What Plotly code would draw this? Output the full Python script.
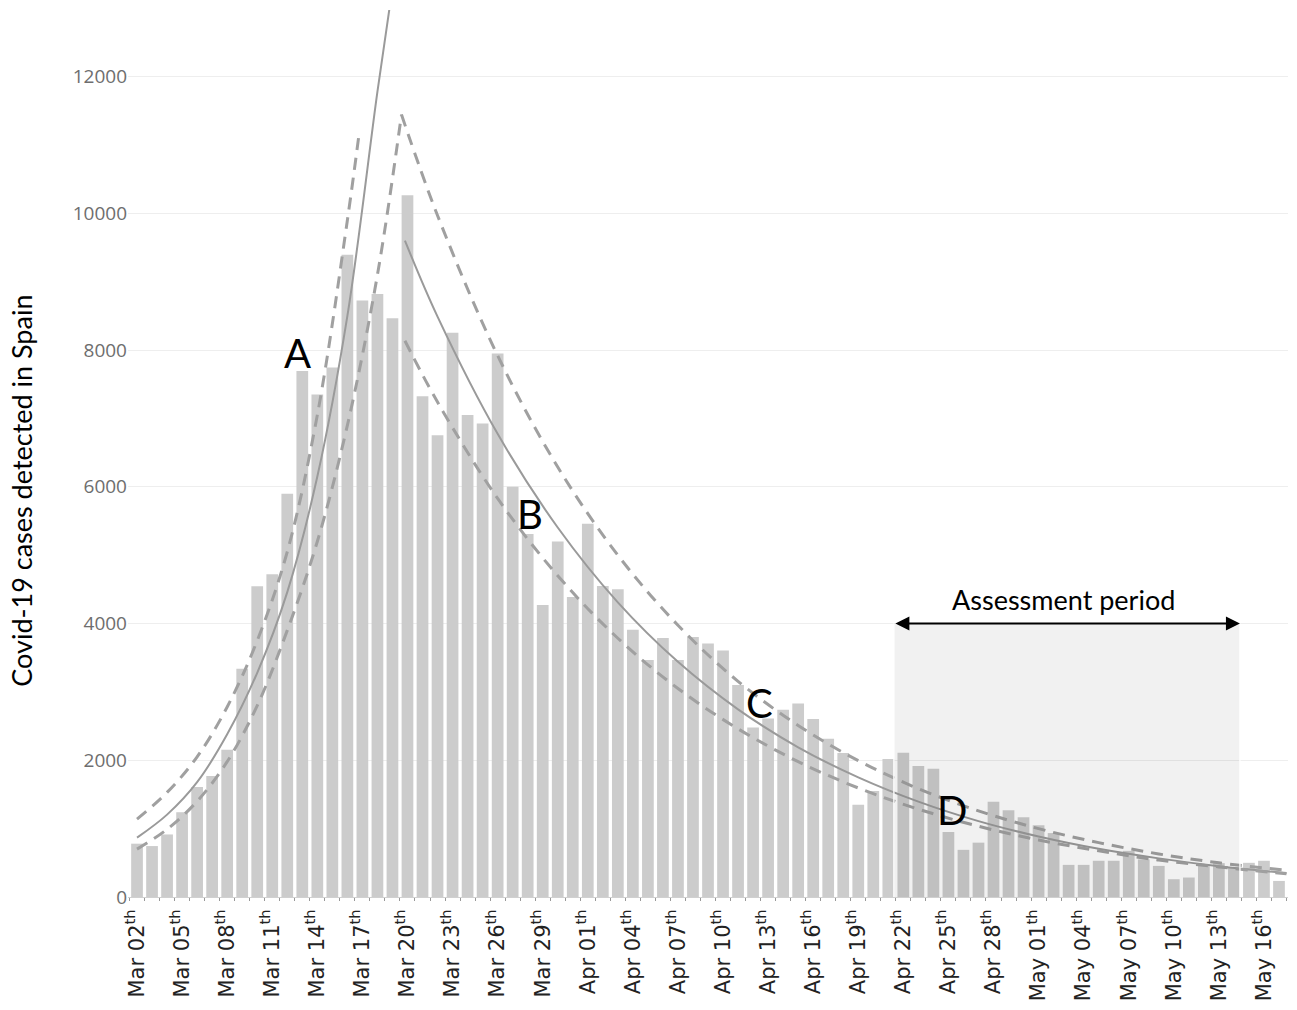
import plotly.graph_objects as go
import pandas as pd

# ---------------- data ----------------
dates = pd.date_range("2020-03-02", "2020-05-17", freq="D")
day_idx = list(range(len(dates)))

cases = [780, 745, 915, 1240, 1610, 1770, 2155, 3340, 4545, 4720,
         5900, 7695, 7350, 7745, 9395, 8725, 8820, 8465, 10265, 7325,
         6755, 8255, 7050, 6925, 7950, 6000, 5310, 4270, 5200, 4390,
         5460, 4550, 4500, 3910, 3465, 3790, 3465, 3805, 3710, 3605,
         3100, 2480, 2610, 2740, 2830, 2605, 2315, 2105, 1350, 1550,
         2020, 2110, 1915, 1875, 950, 690, 795, 1395, 1270, 1165,
         1050, 935, 470, 470, 530, 530, 675, 550, 455, 260,
         285, 470, 495, 430, 500, 530, 235]

tick_idx = list(range(0, 77, 3))
tick_labels = ["Mar 02", "Mar 05", "Mar 08", "Mar 11", "Mar 14", "Mar 17",
               "Mar 20", "Mar 23", "Mar 26", "Mar 29", "Apr 01", "Apr 04",
               "Apr 07", "Apr 10", "Apr 13", "Apr 16", "Apr 19", "Apr 22",
               "Apr 25", "Apr 28", "May 01", "May 04", "May 07", "May 10",
               "May 13", "May 16"]
y_ticks = [0, 2000, 4000, 6000, 8000, 10000, 12000]

# growth fit (A) - solid and dashed bounds
fitA_x = [0, 2, 4, 6, 8, 10, 12, 14, 16, 17]
fitA_y = [868, 1205, 1680, 2380, 3280, 4460, 6150, 8500, 11780, 13300]
fitA_up_x = [0, 2, 4, 6, 8, 10, 12, 14, 14.8]
fitA_up_y = [1140, 1530, 2050, 2780, 3750, 5050, 7050, 9900, 11200]
fitA_lo_x = [0, 2, 4, 6, 8, 10, 12, 14, 16, 17.6]
fitA_lo_y = [700, 990, 1400, 1980, 2800, 3900, 5200, 6900, 9100, 11445]

# decay fit (B-C-D) - solid and dashed bounds
fitB_x = [17.83, 20, 24, 28, 32, 36, 40, 44, 48, 52, 56, 60, 64, 68, 72, 76.5]
fitB_y = [9600, 8490, 6775, 5405, 4310, 3440, 2745, 2190, 1750, 1395, 1110, 885, 705, 565, 450, 350]
fitB_up_x = [17.6, 20, 24, 28, 32, 36, 40, 44, 48, 52, 56, 60, 64, 68, 72, 76.5]
fitB_up_y = [11445, 9970, 7920, 6290, 5000, 3975, 3155, 2510, 1995, 1585, 1260, 1000, 795, 630, 500, 390]
fitB_lo_x = [17.83, 20, 24, 28, 32, 36, 40, 44, 48, 52, 56, 60, 64, 68, 72, 76.5]
fitB_lo_y = [8136, 7240, 5830, 4700, 3785, 3050, 2460, 1980, 1595, 1285, 1035, 835, 675, 540, 440, 340]

assess_start, assess_end = 50.37, 73.4
assess_top = 4000

labels_txt = ["A", "B", "C", "D"]
labels_x = [10.71, 26.15, 41.45, 54.22]
labels_y = [7956, 5606, 2832, 1270]

# ---------------- figure ----------------
fig = go.Figure()

fig.add_trace(go.Bar(x=day_idx, y=cases, marker=dict(color="#cccccc", line=dict(width=0)),
                     hoverinfo="x+y", showlegend=False))

solid = dict(color="#9a9a9a", width=2)
dashed = dict(color="#a0a0a0", width=3, dash="12px,8px")

for xs, ys, ln in [(fitA_x, fitA_y, solid), (fitA_up_x, fitA_up_y, dashed),
                   (fitA_lo_x, fitA_lo_y, dashed), (fitB_x, fitB_y, solid),
                   (fitB_up_x, fitB_up_y, dashed), (fitB_lo_x, fitB_lo_y, dashed)]:
    fig.add_trace(go.Scatter(x=xs, y=ys, mode="lines", line=dict(shape="spline", **ln),
                             showlegend=False, hoverinfo="skip"))

# assessment shading
fig.add_shape(type="rect", xref="x", yref="y", x0=assess_start, x1=assess_end,
              y0=0, y1=assess_top, fillcolor="rgba(0,0,0,0.055)", line=dict(width=0), layer="above")
for xv in (assess_start, assess_end):
    fig.add_shape(type="line", xref="x", yref="y", x0=xv, x1=xv, y0=0, y1=assess_top,
                  line=dict(color="rgba(255,255,255,0.9)", width=1.5), layer="above")

fig.add_annotation(x=assess_end, y=assess_top, ax=assess_start, ay=assess_top,
                   xref="x", yref="y", axref="x", ayref="y", text="",
                   showarrow=True, arrowhead=2, startarrowhead=2, arrowside="end+start",
                   arrowwidth=2, arrowsize=1.4, startarrowsize=1.4, arrowcolor="black",
                   standoff=0, startstandoff=0)
fig.add_annotation(x=(assess_start + assess_end) / 2 - 0.2, y=4350, text="Assessment period",
                   showarrow=False, font=dict(family="Lato", size=27, color="black"))

for t, xv, yv in zip(labels_txt, labels_x, labels_y):
    fig.add_annotation(x=xv, y=yv, text=t, showarrow=False,
                       font=dict(family="Lato", size=40, color="black"))

fig.add_annotation(xref="paper", yref="paper", x=-0.0914, y=0.458, text="Covid-19 cases detected in Spain",
                   textangle=-90, showarrow=False, xanchor="center", yanchor="middle",
                   font=dict(family="Lato", size=27, color="black"))

fig.update_layout(
    width=1297, height=1010,
    margin=dict(l=128, r=9, t=10, b=109),
    paper_bgcolor="white", plot_bgcolor="white",
    bargap=0.22,
    xaxis=dict(range=[-0.6, 76.6], tickmode="array", tickvals=tick_idx,
               ticktext=[s + "<sup>th</sup>" for s in tick_labels],
               tickangle=-90, tickfont=dict(family="DejaVu Sans", size=21, color="#222"),
               ticklabelstandoff=3,
               showgrid=False, zeroline=False, showline=True, linecolor="#d0d0d0", linewidth=1,
               ticks="", minor=dict(ticks="outside", ticklen=3, tick0=0.5, dtick=1, tickcolor="#999")),
    yaxis=dict(range=[0, 12975], tickmode="array", tickvals=y_ticks,
               ticktext=[str(v) for v in y_ticks],
               tickfont=dict(family="Open Sans", size=19, color="#6e6e6e"),
               gridcolor="#eeeeee", gridwidth=1, zeroline=False, ticks=""),
)

fig.write_html("out.html", config={"displayModeBar": False},
               post_script="document.body.style.margin='0';")
